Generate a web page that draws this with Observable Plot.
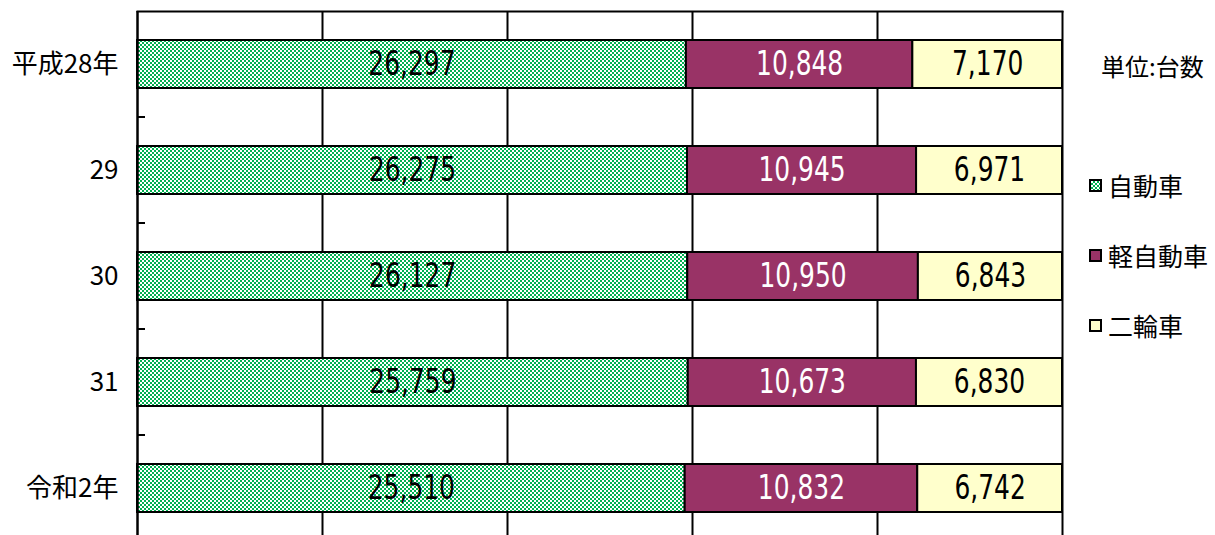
<!DOCTYPE html>
<html>
<head>
<meta charset="utf-8">
<script src="https://cdn.jsdelivr.net/npm/d3@7"></script>
<script src="https://cdn.jsdelivr.net/npm/@observablehq/plot@0.6"></script>
<style>
  body { margin: 0; background: #fff; }
  #wrap { position: relative; width: 1215px; height: 535px; overflow: hidden; font-family: "Noto Sans CJK JP", sans-serif; }
  .unit { position: absolute; left: 1101px; top: 48px; font-size: 24px; color: #000; white-space: nowrap; }
  .leg { position: absolute; left: 1089px; font-size: 25px; color: #000; white-space: nowrap; display: flex; align-items: center; }
  .sw { width: 9px; height: 9px; border: 2px solid #000; margin-right: 6px; }
</style>
</head>
<body>
<div id="wrap"></div>
<script>
const years = ["平成28年", "29", "30", "31", "令和2年"];
const series = ["自動車", "軽自動車", "二輪車"];
const car = [26297, 26275, 26127, 25759, 25510];
const kei = [10848, 10945, 10950, 10673, 10832];
const bike = [7170, 6971, 6843, 6830, 6742];
const gridTicks = [0.2, 0.4, 0.6, 0.8, 1.0];
const colors = ["url(#grnpat)", "#993366", "#ffffcc"];
const unitLabel = "単位:台数";

const valuesBySeries = [car, kei, bike];
const rows = [];
years.forEach((y, i) => {
  series.forEach((s, j) => rows.push({year: y, type: s, value: valuesBySeries[j][i]}));
});

const numFont = '"DejaVu Sans Condensed", "DejaVu Sans", sans-serif';

const plot = Plot.plot({
  width: 1215,
  height: 535,
  marginLeft: 137,
  marginRight: 153,
  marginTop: 11,
  marginBottom: 0,
  style: {fontFamily: '"Noto Sans CJK JP", sans-serif', background: "white", overflow: "visible"},
  x: {domain: [0, 1], axis: null},
  y: {domain: years, range: [11, 541], paddingInner: 0.547, paddingOuter: 0.2735, label: null},
  color: {domain: series, range: colors},
  marks: [
    Plot.ruleX(gridTicks, {stroke: "black", strokeWidth: 2}),
    Plot.frame({anchor: "top", stroke: "black", strokeWidth: 2}),
    Plot.barX(rows, Plot.stackX({offset: "normalize", order: series, x: "value", y: "year", fill: "type", stroke: "black", strokeWidth: 2, inset: 0})),
    Plot.text(rows, Plot.stackX({offset: "normalize", order: series, x: "value", y: "year",
      text: d => d3.format(",")(d.value),
      fill: d => d.type === "軽自動車" ? "white" : "black",
      fontSize: 33, fontFamily: numFont})),
    Plot.ruleX([0], {stroke: "black", strokeWidth: 2.5}),
    Plot.axisY({tickSize: 0, tickPadding: 19, fontSize: 26, fill: "black"})
  ]
});

document.getElementById("wrap").appendChild(plot);

const svg = d3.select(plot);
const defs = svg.insert("defs", ":first-child");
const pat = defs.append("pattern").attr("id", "grnpat").attr("patternUnits", "userSpaceOnUse")
  .attr("width", 4).attr("height", 4);
pat.append("rect").attr("width", 4).attr("height", 4).attr("fill", "#ffffff");
pat.append("rect").attr("x", 0).attr("y", 0).attr("width", 2).attr("height", 2).attr("fill", "#00b050");
pat.append("rect").attr("x", 2).attr("y", 2).attr("width", 2).attr("height", 2).attr("fill", "#00b050");

// narrow the value labels horizontally (condensed look)
svg.selectAll('g[aria-label="text"] text').each(function() {
  const t = this.getAttribute("transform");
  if (t) this.setAttribute("transform", t + " scale(0.84,1)");
});

// tick marks at band boundaries on the left axis
const ys = plot.scale("y");
const xs = plot.scale("x");
const step = ys.step;
const x0 = xs.apply(0);
years.slice(0, -1).forEach(y => {
  const yy = ys.apply(y) + ys.bandwidth + (step - ys.bandwidth) / 2;
  svg.append("line").attr("x1", x0).attr("x2", x0 + 8).attr("y1", yy).attr("y2", yy)
    .attr("stroke", "black").attr("stroke-width", 2);
});

// legend
const wrap = document.getElementById("wrap");
const u = document.createElement("div");
u.className = "unit"; u.textContent = unitLabel;
wrap.appendChild(u);
const legTops = [167, 237, 307];
series.forEach((s, i) => {
  const d = document.createElement("div");
  d.className = "leg";
  d.style.top = legTops[i] + "px";
  const sw = document.createElement("span");
  sw.className = "sw";
  if (i === 0) {
    sw.style.background = "repeating-conic-gradient(#00b050 0 25%, #ffffff 0 50%) 0 0 / 4px 4px";
  } else {
    sw.style.background = colors[i];
  }
  d.appendChild(sw);
  const t = document.createElement("span");
  t.textContent = s;
  d.appendChild(t);
  wrap.appendChild(d);
});
</script>
</body>
</html>
